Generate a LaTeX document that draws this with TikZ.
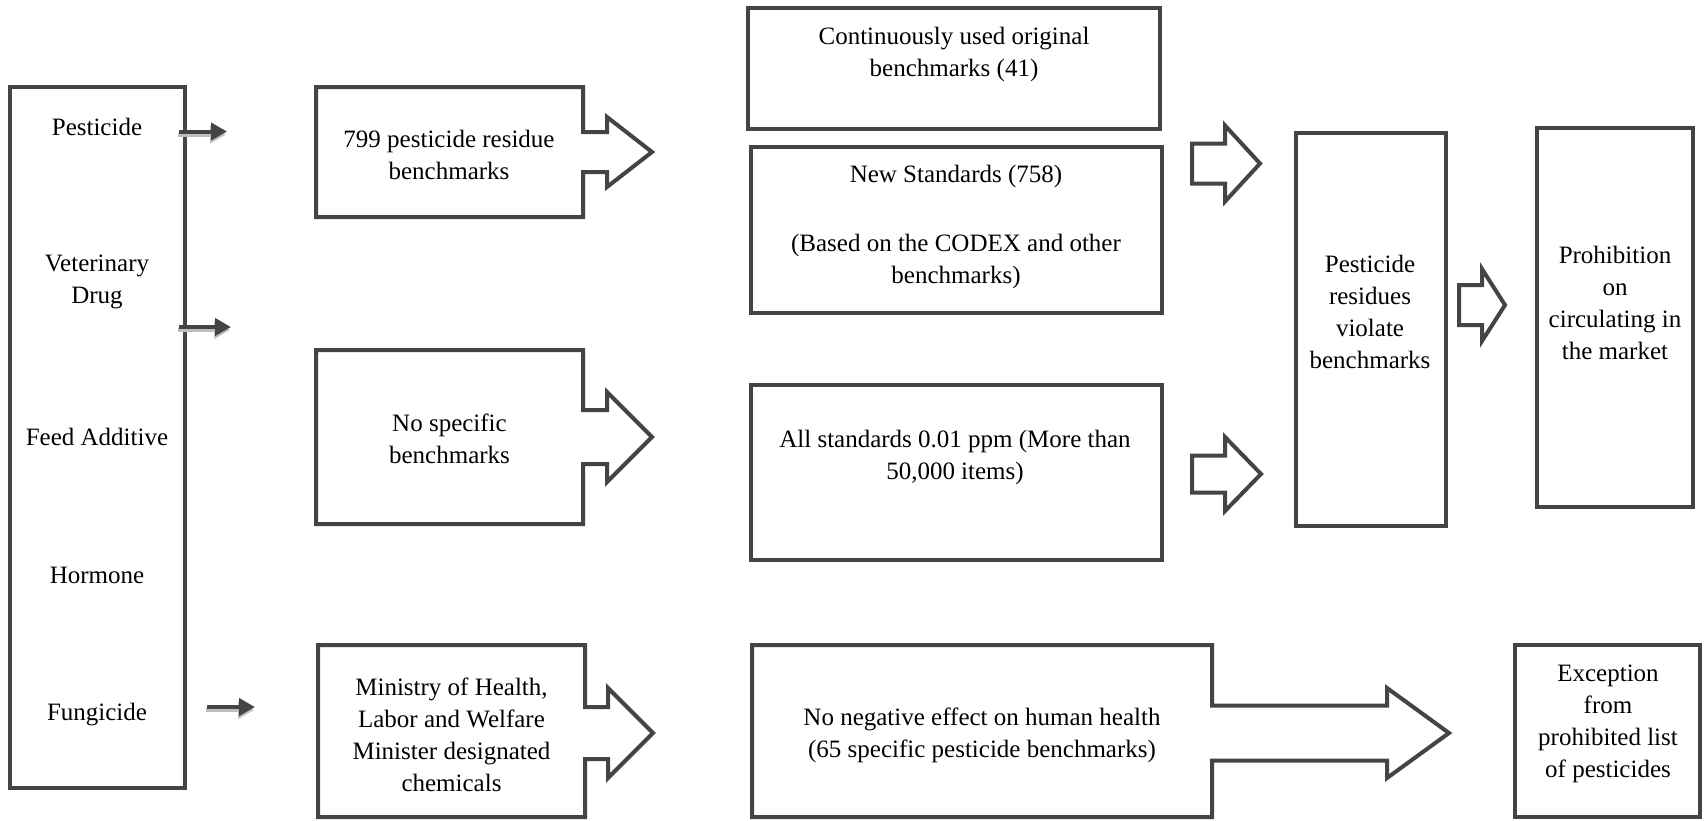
\documentclass[tikz,border=0pt]{standalone}
\usepackage{fontspec}
\setmainfont{Liberation Serif}
\usetikzlibrary{arrows.meta}

\definecolor{edgegray}{RGB}{68,68,68}
\definecolor{shadowgray}{RGB}{190,190,190}

\tikzset{
  outline/.style={draw=edgegray, line width=4pt, line join=miter},
  box/.style={outline, rectangle, inner sep=0pt, outer sep=0pt},
  txt/.style={align=center, inner sep=0pt, text=black,
              font=\fontsize{25}{32}\selectfont},
  pointer/.style={draw=edgegray, line width=4pt,
                  -{Triangle[length=16pt,width=17pt]}},
  pointershadow/.style={draw=shadowgray, line width=4pt,
                  -{Triangle[length=16pt,width=17pt]}},
}

% box with an arrow on its right side:
% left, top, right, bottom, centre y, shaft half height, head base x, head half height, tip x
\newcommand\ArrowBox[9]{%
  \draw[outline] (#1,#2) -- (#3,#2) -- (#3,#5-#6) -- (#7,#5-#6) -- (#7,#5-#8)
    -- (#9,#5) -- (#7,#5+#8) -- (#7,#5+#6) -- (#3,#5+#6) -- (#3,#4) -- (#1,#4) -- cycle;}

% hollow block arrow: tail x, centre y, shaft half height, head base x, head half height, tip x
\newcommand\BlockArrow[6]{%
  \draw[outline] (#1,#2-#3) -- (#4,#2-#3) -- (#4,#2-#5) -- (#6,#2)
    -- (#4,#2+#5) -- (#4,#2+#3) -- (#1,#2+#3) -- cycle;}

\begin{document}
\begin{tikzpicture}[x=1pt, y=-1pt]
  \useasboundingbox (0,0) rectangle (1704,820);
  \fill[white] (0,0) rectangle (1704,820);

  % sources of residues
  \node[box, anchor=north west, minimum width=175pt, minimum height=701pt] (src) at (10,87) {};
  \node[txt] (pest) at (97,127) {Pesticide};
  \node[txt] (vet)  at (97,282) {Veterinary\\Drug};
  \node[txt] (feed) at (97,437) {Feed Additive};
  \node[txt] (horm) at (97,575) {Hormone};
  \node[txt] (fung) at (97,715) {Fungicide};

  % small pointers with soft shadow
  \coordinate (p1s) at (179,131.5); \coordinate (p1e) at (227,131.5);
  \coordinate (p2s) at (179,327);   \coordinate (p2e) at (231,327);
  \coordinate (p3s) at (207,707);   \coordinate (p3e) at (255,707);
  \foreach \s/\e in {p1s/p1e, p2s/p2e, p3s/p3e} {
    \draw[pointershadow] ([shift={(-1,3)}]\s) -- ([shift={(-1,3)}]\e);
    \draw[pointer] (\s) -- (\e);
  }

  % second column
  \ArrowBox{316}{87}{583}{217}{152}{20}{607}{35}{652}
  \node[txt] (bench) at (449,155) {799 pesticide residue\\benchmarks};
  \ArrowBox{316}{350}{583}{524}{437}{27}{607}{45}{652}
  \node[txt] (nospec) at (449.5,439) {No specific\\benchmarks};
  \ArrowBox{318}{645}{585}{817}{733}{26}{608}{45}{653}
  \node[txt] (mhlw) at (451.5,735) {Ministry of Health,\\Labor and Welfare\\Minister designated\\chemicals};

  % third column
  \node[box, anchor=north west, minimum width=412pt, minimum height=121pt] (orig) at (748,8) {};
  \node[txt] (origtxt) at (954,54) {Continuously used original\\benchmarks (41)};
  \node[box, anchor=north west, minimum width=411pt, minimum height=166pt] (newstd) at (751,147) {};
  \node[txt] (newtxt) at (956,227) {New Standards (758)\\[37pt](Based on the CODEX and other\\benchmarks)};
  \node[box, anchor=north west, minimum width=411pt, minimum height=175pt] (unif) at (751,385) {};
  \node[txt] (uniftxt) at (955,457) {All standards 0.01 ppm (More than\\50,000 items)};
  \ArrowBox{752}{645}{1212}{817}{733}{27.5}{1387}{45}{1449}
  \node[txt] (safe) at (982,735) {No negative effect on human health\\(65 specific pesticide benchmarks)};

  % block arrows
  \BlockArrow{1192}{163.5}{20}{1225}{38}{1260}
  \BlockArrow{1192}{474}{18.5}{1225}{37}{1261}
  \BlockArrow{1459}{305}{20}{1482}{36}{1505}

  % outcomes
  \node[box, anchor=north west, minimum width=150pt, minimum height=393pt] (viol) at (1296,133) {};
  \node[txt] (violtxt) at (1370,312) {Pesticide\\residues\\violate\\benchmarks};
  \node[box, anchor=north west, minimum width=156pt, minimum height=379pt] (ban) at (1537,128) {};
  \node[txt] (bantxt) at (1615,303) {Prohibition\\on\\circulating in\\the market};
  \node[box, anchor=north west, minimum width=185pt, minimum height=172pt] (exc) at (1515,645) {};
  \node[txt] (exctxt) at (1608,724) {Exception\\from\\prohibited list\\of pesticides};
\end{tikzpicture}
\end{document}
